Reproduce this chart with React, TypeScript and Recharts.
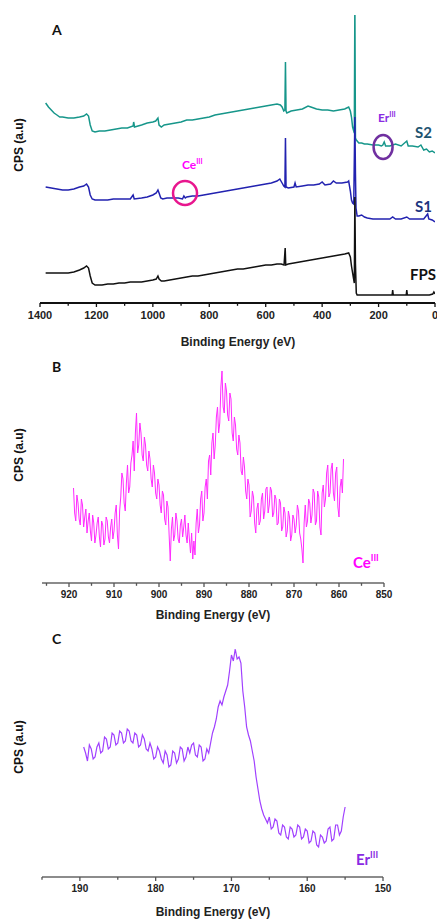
import { LineChart, Line, XAxis, YAxis, ReferenceDot } from 'recharts'

// ---- panel A: survey spectra (binding energy, eV) ----
const s2Energy = [1380, 1370, 1360, 1350, 1340, 1330, 1320, 1300, 1280, 1260, 1245, 1235, 1228, 1222, 1215, 1205, 1190, 1170, 1150, 1130, 1110, 1090, 1070, 1068, 1065, 1040, 1020, 1000, 990, 982, 978, 970, 960, 940, 920, 900, 880, 860, 840, 820, 800, 780, 760, 740, 720, 700, 680, 660, 640, 620, 600, 580, 560, 548, 542, 536, 532, 530, 528, 525, 510, 490, 470, 450, 440, 420, 400, 380, 360, 340, 320, 306, 300, 296, 292, 289, 286, 284, 282, 279, 276, 270, 260, 250, 240, 220, 200, 190, 185, 180, 175, 160, 140, 120, 100, 95, 80, 60, 50, 40, 30, 20, 10, 0]
const s2Counts = [200, 196, 193, 190, 188, 186, 186, 185, 185, 186, 187, 189, 187, 178, 172, 171, 172, 172, 173, 174, 175, 175, 177, 181, 176, 178, 180, 181, 182, 185, 178, 176, 178, 179, 180, 181, 183, 183, 184, 185, 186, 188, 189, 190, 191, 192, 193, 194, 195, 196, 197, 198, 199, 198, 196, 192, 193, 241, 192, 190, 192, 193, 194, 197, 196, 194, 193, 193, 192, 193, 194, 196, 192, 186, 176, 173, 170, 300, 165, 163, 162, 160, 160, 159, 159, 158, 158, 157, 158, 161, 157, 157, 159, 157, 162, 157, 157, 156, 158, 153, 154, 151, 152, 150]

const s1Energy = [1380, 1360, 1340, 1320, 1300, 1280, 1260, 1245, 1235, 1228, 1222, 1215, 1205, 1180, 1160, 1140, 1120, 1100, 1080, 1070, 1066, 1040, 1020, 1000, 988, 982, 978, 972, 965, 950, 930, 910, 895, 890, 885, 880, 860, 840, 820, 800, 780, 760, 740, 720, 700, 680, 660, 640, 620, 600, 580, 560, 550, 542, 536, 532, 530, 528, 520, 500, 496, 492, 470, 450, 430, 410, 400, 390, 370, 360, 350, 330, 310, 306, 300, 296, 292, 288, 284, 282, 280, 276, 270, 260, 250, 240, 220, 200, 180, 160, 150, 140, 120, 100, 90, 60, 40, 26, 22, 10, 0]
const s1Counts = [116, 115, 114, 113, 113, 114, 116, 117, 119, 116, 108, 104, 103, 103, 103, 104, 104, 104, 104, 108, 104, 105, 106, 108, 110, 113, 110, 105, 104, 105, 105, 105, 104, 107, 105, 106, 107, 107, 108, 109, 110, 111, 112, 113, 114, 115, 116, 117, 118, 119, 120, 122, 124, 120, 117, 116, 165, 116, 115, 116, 120, 116, 117, 118, 118, 119, 121, 118, 119, 122, 120, 120, 121, 122, 112, 103, 100, 99, 186, 130, 95, 87, 87, 88, 86, 85, 84, 84, 84, 84, 86, 84, 84, 86, 84, 84, 84, 89, 84, 83, 81]

const fpsEnergy = [1380, 1360, 1340, 1320, 1300, 1280, 1260, 1245, 1235, 1228, 1222, 1215, 1205, 1180, 1160, 1140, 1120, 1100, 1080, 1060, 1040, 1020, 1000, 988, 982, 978, 970, 960, 940, 920, 900, 880, 860, 840, 820, 800, 780, 760, 740, 720, 700, 680, 660, 640, 620, 600, 580, 560, 545, 535, 531, 529, 520, 500, 480, 460, 440, 420, 400, 380, 360, 340, 320, 306, 300, 296, 292, 289, 286, 284, 282, 279, 276, 260, 240, 200, 160, 152, 150, 148, 120, 102, 100, 98, 60, 20, 8, 4, 0]
const fpsCounts = [30, 30, 30, 30, 30, 31, 33, 35, 37, 35, 27, 20, 18, 18, 19, 19, 20, 20, 21, 21, 21, 22, 23, 24, 27, 24, 22, 22, 23, 24, 25, 26, 27, 27, 28, 29, 30, 31, 32, 33, 34, 34, 35, 36, 37, 38, 38, 39, 39, 38, 55, 38, 39, 40, 41, 42, 43, 44, 45, 46, 47, 48, 49, 50, 46, 37, 30, 25, 20, 106, 40, 10, 8, 8, 8, 8, 8, 8, 13, 8, 8, 8, 13, 8, 8, 8, 9, 11, 9]

const surveyTicks = [1400, 1300, 1200, 1100, 1000, 900, 800, 700, 600, 500, 400, 300, 200, 100, 0]

// ---- panel B: Ce 3d region, 919 -> 859 eV every 0.25 eV ----
const ceStart = 919
const ceStep = 0.25
const ceCounts = [
  95, 70, 62, 88, 80, 64, 58, 84, 78, 56, 66, 74, 50, 62, 70, 52, 42, 68, 60, 40,
  48, 60, 66, 46, 36, 62, 58, 38, 44, 66, 62, 46, 40, 56, 64, 44, 52, 70, 78, 48,
  34, 72, 86, 110, 104, 80, 72, 100, 118, 90, 96, 120, 128, 142, 112, 150, 170, 130, 138, 160,
  150, 128, 122, 146, 138, 118, 112, 132, 124, 104, 96, 118, 110, 90, 84, 104, 98, 78, 70, 92,
  88, 64, 58, 82, 76, 48, 22, 54, 66, 42, 48, 70, 62, 44, 40, 58, 64, 46, 56, 68,
  48, 40, 60, 44, 30, 50, 24, 42, 28, 60, 74, 50, 58, 84, 92, 62, 70, 96, 104, 84,
  122, 128, 108, 140, 150, 124, 138, 166, 176, 150, 160, 196, 212, 176, 170, 200, 192, 168, 162, 190,
  184, 150, 142, 166, 158, 134, 128, 148, 140, 112, 108, 126, 116, 92, 84, 104, 98, 66, 72, 92,
  86, 60, 50, 74, 80, 58, 62, 84, 90, 64, 72, 94, 96, 70, 78, 96, 92, 66, 70, 88,
  84, 58, 60, 84, 80, 52, 56, 76, 70, 46, 52, 72, 66, 42, 48, 68, 64, 50, 58, 78,
  72, 50, 44, 34, 20, 60, 78, 56, 62, 84, 80, 60, 68, 94, 90, 58, 62, 92, 86, 56,
  48, 90, 98, 76, 84, 110, 118, 86, 90, 114, 120, 90, 82, 110, 116, 76, 66, 96, 104, 90,
  124,
]
const ceTicks = [925, 920, 915, 910, 905, 900, 895, 890, 885, 880, 875, 870, 865, 860, 855, 850]

// ---- panel C: Er 4d region, 189.5 -> 155 eV every 0.25 eV ----
const erStart = 189.5
const erStep = 0.25
const erCounts = [
  130, 124, 116, 132, 128, 118, 120, 130, 134, 124, 126, 140, 138, 128, 130, 144, 142, 132, 134, 146,
  144, 134, 136, 148, 146, 136, 134, 144, 142, 130, 132, 142, 138, 128, 126, 134, 128, 118, 120, 130,
  126, 118, 114, 126, 122, 110, 112, 126, 124, 114, 118, 130, 128, 116, 120, 130, 124, 132, 134, 122,
  120, 132, 130, 116, 118, 128, 124, 134, 144, 150, 158, 170, 176, 172, 180, 186, 192, 206, 222, 216,
  228, 218, 220, 214, 186, 170, 150, 142, 136, 126, 116, 100, 88, 76, 68, 62, 58, 54, 60, 48,
  50, 58, 56, 44, 42, 52, 50, 40, 38, 50, 48, 40, 42, 52, 50, 38, 40, 48, 46, 34,
  36, 46, 44, 32, 30, 42, 40, 34, 36, 48, 50, 36, 38, 52, 52, 42, 46, 60, 70,
]
const erTicks = [195, 190, 185, 180, 175, 170, 165, 160, 155, 150]

const toPoints = (energy: number[], counts: number[]) => energy.map((e, i) => ({ e, c: counts[i] }))
const toGrid = (start: number, step: number, counts: number[]) => counts.map((c, i) => ({ e: start - i * step, c }))

const surveyS2 = toPoints(s2Energy, s2Counts)
const surveyS1 = toPoints(s1Energy, s1Counts)
const surveyFps = toPoints(fpsEnergy, fpsCounts)
const ceData = toGrid(ceStart, ceStep, ceCounts)
const erData = toGrid(erStart, erStep, erCounts)

const SANS = '"Liberation Sans", Arial, sans-serif'
const LABEL = 'Lato, "Open Sans", sans-serif'

function makeTick(major: number, fontSize: number, color: string, len: number) {
  return (props: any) => {
    const { x, y, payload } = props
    const isMajor = Math.abs(payload.value % major) < 1e-6
    return (
      <g transform={`translate(${x},${y})`}>
        <line x1={0} x2={0} y1={0} y2={isMajor ? len : len * 0.7} stroke={color} strokeWidth={1.3} />
        {isMajor && (
          <text y={len + fontSize + 1} textAnchor="middle" fontSize={fontSize} fontWeight="bold" fontFamily={SANS} fill="#222">
            {payload.value}
          </text>
        )}
      </g>
    )
  }
}

function Sup({ x, y, base, color, size }: { x: number; y: number; base: string; color: string; size: number }) {
  return (
    <text x={x} y={y} fill={color} fontFamily={LABEL} fontWeight="bold" fontSize={size}>
      {base}
      <tspan fontSize={size * 0.6} dy={-size * 0.45}>III</tspan>
    </text>
  )
}

function YTitle({ cx, cy }: { cx: number; cy: number }) {
  return (
    <text x={cx} y={cy} transform={`rotate(-90 ${cx} ${cy})`} textAnchor="middle" dominantBaseline="middle" fontFamily={SANS} fontWeight="bold" fontSize={12} fill="#111">
      CPS (a.u)
    </text>
  )
}

function XTitle({ cx, y }: { cx: number; y: number }) {
  return (
    <text x={cx} y={y} textAnchor="middle" fontFamily={SANS} fontWeight="bold" fontSize={12} fill="#222">
      Binding Energy (eV)
    </text>
  )
}

export default function App() {
  return (
    <div style={{ position: 'absolute', left: 0, top: 0, width: 437, height: 921, background: '#fff', overflow: 'hidden' }}>
      {/* A */}
      <div style={{ position: 'absolute', left: 0, top: 0 }}>
        <LineChart width={437} height={352} margin={{ top: 15, right: 2, bottom: 19, left: 40 }}>
          <XAxis
            dataKey="e"
            type="number"
            domain={[0, 1400]}
            reversed
            ticks={surveyTicks}
            interval={0}
            tickSize={0}
            tickMargin={0}
            height={30}
            axisLine={{ stroke: '#111', strokeWidth: 2 }}
            tick={makeTick(200, 11, '#111', 4)}
            allowDataOverflow
          />
          <YAxis type="number" domain={[0, 288]} width={0} tick={false} tickLine={false} axisLine={{ stroke: '#111', strokeWidth: 2 }} allowDataOverflow />
          <Line data={surveyS2} dataKey="c" stroke="#16968a" strokeWidth={1.5} dot={false} isAnimationActive={false} />
          <Line data={surveyS1} dataKey="c" stroke="#2222b0" strokeWidth={1.5} dot={false} isAnimationActive={false} />
          <Line data={surveyFps} dataKey="c" stroke="#111" strokeWidth={1.5} dot={false} isAnimationActive={false} />
          <ReferenceDot x={886} y={110} r={12} fill="none" stroke="#e8168e" strokeWidth={2.5} />
          <ReferenceDot
            x={184}
            y={156}
            r={10}
            fill="none"
            stroke="#7030a0"
            strokeWidth={2.5}
            shape={(p: any) => <ellipse cx={p.cx} cy={p.cy} rx={9.5} ry={12} fill="none" stroke="#7030a0" strokeWidth={2.5} />}
          />
          <text x={52} y={35} fontFamily={LABEL} fontWeight="bold" fontSize={14} fill="#111">A</text>
          <Sup x={182} y={169} base="Ce" color="#ff00ff" size={12} />
          <Sup x={378} y={122} base="Er" color="#8a2be2" size={12} />
          <text x={415} y={138} fontFamily={LABEL} fontWeight="bold" fontSize={15} fill="#1e5470">S2</text>
          <text x={415} y={212} fontFamily={LABEL} fontWeight="bold" fontSize={15} fill="#1d3580">S1</text>
          <text x={410} y={280} fontFamily={LABEL} fontWeight="bold" fontSize={15} fill="#111">FPS</text>
          <YTitle cx={20} cy={145} />
          <XTitle cx={238} y={346} />
        </LineChart>
      </div>

      {/* B */}
      <div style={{ position: 'absolute', left: 0, top: 345 }}>
        <LineChart width={437} height={280} data={ceData} margin={{ top: 7, right: 53, bottom: 12, left: 42 }}>
          <XAxis
            dataKey="e"
            type="number"
            domain={[850, 926]}
            reversed
            ticks={ceTicks}
            interval={0}
            tickSize={0}
            tickMargin={0}
            height={30}
            axisLine={{ stroke: '#666', strokeWidth: 1.5 }}
            tick={makeTick(10, 10, '#555', 4)}
          />
          <YAxis type="number" domain={[0, 231]} width={0} tick={false} tickLine={false} axisLine={{ stroke: '#666', strokeWidth: 1.5 }} allowDataOverflow />
          <Line dataKey="c" stroke="#ff2bff" strokeWidth={1} dot={false} isAnimationActive={false} />
          <text x={52} y={27} fontFamily={LABEL} fontWeight="bold" fontSize={14} fill="#111">B</text>
          <Sup x={353} y={223} base="Ce" color="#ff00ff" size={15} />
          <YTitle cx={20} cy={110} />
          <XTitle cx={213} y={274} />
        </LineChart>
      </div>

      {/* C */}
      <div style={{ position: 'absolute', left: 0, top: 620 }}>
        <LineChart width={437} height={301} data={erData} margin={{ top: 5, right: 54, bottom: 14, left: 42 }}>
          <XAxis
            dataKey="e"
            type="number"
            domain={[150, 195]}
            reversed
            ticks={erTicks}
            interval={0}
            tickSize={0}
            tickMargin={0}
            height={30}
            axisLine={{ stroke: '#666', strokeWidth: 1.5 }}
            tick={makeTick(10, 10, '#555', 4)}
          />
          <YAxis type="number" domain={[0, 252]} width={0} tick={false} tickLine={false} axisLine={{ stroke: '#666', strokeWidth: 1.5 }} allowDataOverflow />
          <Line dataKey="c" stroke="#a040ff" strokeWidth={1.2} dot={false} isAnimationActive={false} />
          <text x={52} y={24} fontFamily={LABEL} fontWeight="bold" fontSize={14} fill="#111">C</text>
          <Sup x={356} y={245} base="Er" color="#8a2be2" size={15} />
          <YTitle cx={20} cy={127} />
          <XTitle cx={213} y={296} />
        </LineChart>
      </div>
    </div>
  )
}
